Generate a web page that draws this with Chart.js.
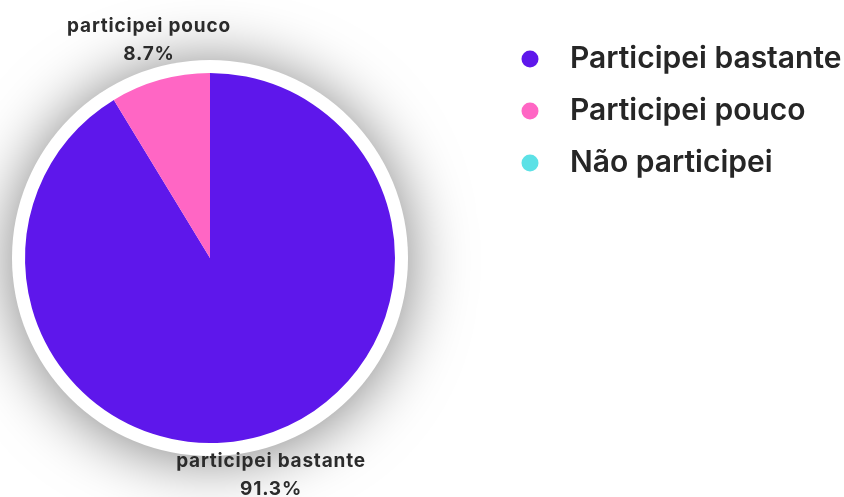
<!DOCTYPE html>
<html>
<head>
<meta charset="utf-8">
<script src="https://cdn.jsdelivr.net/npm/chart.js@4"></script>
<style>
  html, body { margin: 0; padding: 0; background: #fff; overflow: hidden; }
  #janela { width: 844px; height: 497px; overflow: hidden; position: relative; }
  #wrap { position: absolute; top: 0; left: -83px; width: 927px; height: 497px; }
</style>
</head>
<body>
<div id="janela"><div id="wrap"><canvas id="grafico"></canvas></div></div>
<script>
// dados
const categorias = ['Participei bastante', 'Participei pouco', 'Não participei']
const valores = [91.3, 8.7, 0]
const cores = ['#5E17EB', '#FF66C4', '#5CE1E6']

const deslocamento = 83      // o canvas começa 83px fora da tela
const tamLegenda = 30
const espacoLegenda = 22
const fonteLegenda = '600 30px Inter'
const fonteRotulo = '700 19px Inter'

// bolinhas da legenda (deslocadas pra esquerda do texto)
const bolinhas = cores.map(cor => {
    const c = document.createElement('canvas')
    c.width = 38
    c.height = 18
    const g = c.getContext('2d')
    g.fillStyle = cor
    g.beginPath()
    g.arc(9, 9, 8.5, 0, Math.PI * 2)
    g.fill()
    return c
})

// medir o texto da legenda pra posicionar tudo
const medidor = document.createElement('canvas').getContext('2d')
medidor.font = fonteLegenda
const larguraTexto = Math.max(...categorias.map(t => medidor.measureText(t).width))
const larguraLegenda = espacoLegenda + tamLegenda * 1.5 + larguraTexto + 10
const legendaEsquerda = 503 + deslocamento

// sombra + anel branco em volta da pizza
const anelSombra = {
    id: 'anelSombra',
    beforeDatasetsDraw(chart) {
        const arc = chart.getDatasetMeta(0).data[0]
        if (!arc) return
        const ctx = chart.ctx
        ctx.save()
        ctx.shadowColor = 'rgba(0,0,0,0.5)'
        ctx.shadowBlur = 62
        ctx.shadowOffsetY = 3
        ctx.fillStyle = '#fff'
        ctx.beginPath()
        ctx.arc(arc.x, arc.y, arc.outerRadius + 13, 0, Math.PI * 2)
        ctx.fill()
        ctx.restore()
    }
}

// rótulos fora da pizza
const rotulos = {
    id: 'rotulos',
    afterDatasetsDraw(chart) {
        const ctx = chart.ctx
        const meta = chart.getDatasetMeta(0)
        ctx.save()
        ctx.font = fonteRotulo
        ctx.letterSpacing = '0.8px'
        ctx.fillStyle = '#2b2b2b'
        ctx.textAlign = 'center'
        ctx.textBaseline = 'middle'
        meta.data.forEach((arc, i) => {
            if (!valores[i]) return
            const meio = (arc.startAngle + arc.endAngle) / 2
            const r = arc.outerRadius + 41
            const x = arc.x + Math.cos(meio) * r
            const y = arc.y + Math.sin(meio) * r
            ctx.fillText(categorias[i].toLowerCase(), x, y - 14)
            ctx.fillText(valores[i].toFixed(1) + '%', x, y + 14)
        })
        ctx.restore()
    }
}

new Chart(document.getElementById('grafico'), {
    type: 'pie',
    data: {
        labels: categorias,
        datasets: [{
            data: valores,
            backgroundColor: cores,
            borderWidth: 0,
            radius: 185
        }]
    },
    options: {
        responsive: true,
        maintainAspectRatio: false,
        animation: false,
        layout: {
            padding: {
                top: 22,
                bottom: 3,
                left: 0,
                right: 844 + deslocamento - legendaEsquerda - larguraLegenda
            }
        },
        plugins: {
            tooltip: { enabled: false },
            legend: {
                position: 'right',
                align: 'start',
                labels: {
                    usePointStyle: true,
                    padding: espacoLegenda,
                    color: '#262626',
                    font: { family: 'Inter', size: tamLegenda, weight: '600' },
                    generateLabels(chart) {
                        const itens = Chart.overrides.pie.plugins.legend.labels.generateLabels(chart)
                        return itens.map((it, i) => ({ ...it, pointStyle: bolinhas[i] }))
                    }
                }
            }
        }
    },
    plugins: [anelSombra, rotulos]
})
</script>
</body>
</html>
